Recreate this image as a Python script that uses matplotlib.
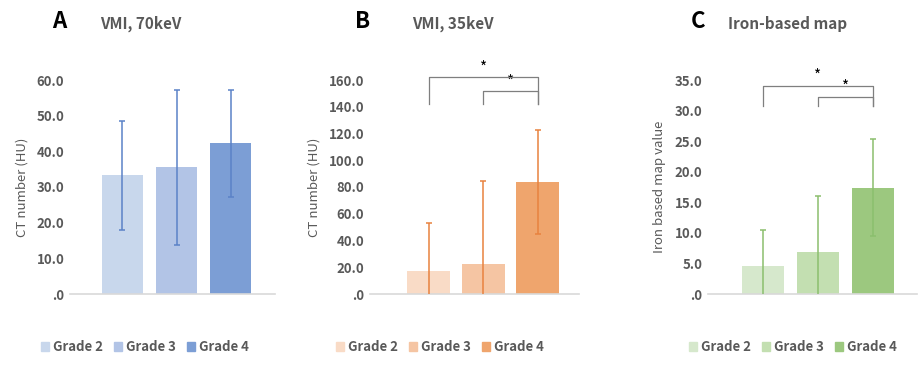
import matplotlib.pyplot as plt
import numpy as np

plt.rcParams['font.family'] = ['Noto Sans CJK JP', 'DejaVu Sans']

grades = ["Grade 2", "Grade 3", "Grade 4"]

vmi70_mean = [33.3, 35.5, 42.3]
vmi70_sd = [15.3, 21.8, 15.0]

vmi35_mean = [17.4, 22.2, 83.8]
vmi35_sd = [36.0, 62.6, 39.0]

iron_mean = [4.6, 6.8, 17.4]
iron_sd = [5.8, 9.3, 7.9]

# (left, right, bracket top, leg bottom) in data units
vmi35_brackets = [(0, 2, 162.0, 142.0), (1, 2, 151.5, 142.0)]
iron_brackets = [(0, 2, 34.1, 30.7), (1, 2, 32.3, 30.7)]

grey = '#595959'

fig = plt.figure(figsize=(9.23, 3.7), dpi=100)

panels = [
    dict(rect=[70/923, 1-294/370, 205/923, 214/370], mean=vmi70_mean, sd=vmi70_sd,
         colors=['#C8D7EC', '#B2C4E6', '#7C9ED5'], ecolor='#5B82C7', ymax=60, step=10,
         xlim=(-0.97, 2.82), width=0.76, ylabel='CT number (HU)', brackets=[],
         letter='A', lx=59, title='VMI, 70keV', tx=100, legx=145),
    dict(rect=[370/923, 1-294/370, 209/923, 214/370], mean=vmi35_mean, sd=vmi35_sd,
         colors=['#F9DBC6', '#F5C5A3', '#EFA56D'], ecolor='#E8823F', ymax=160, step=20,
         xlim=(-1.07, 2.75), width=0.785, ylabel='CT number (HU)', brackets=vmi35_brackets,
         letter='B', lx=363, title='VMI, 35keV', tx=412, legx=440),
    dict(rect=[708/923, 1-294/370, 209/923, 214/370], mean=iron_mean, sd=iron_sd,
         colors=['#D6E8CC', '#C3DFB1', '#9CC87F'], ecolor='#8BBF6E', ymax=35, step=5,
         xlim=(-1.0, 2.8), width=0.76, ylabel='Iron based map value', brackets=iron_brackets,
         letter='C', lx=698, title='Iron-based map', tx=728, legx=793),
]

for p in panels:
    ax = fig.add_axes(p['rect'])
    x = np.arange(len(grades))
    ax.bar(x, p['mean'], width=p['width'], color=p['colors'], zorder=2)
    ax.errorbar(x, p['mean'], yerr=p['sd'], fmt='none', ecolor=p['ecolor'],
                elinewidth=1.1, capsize=2, capthick=1.1, zorder=3)
    ax.set_xlim(*p['xlim'])
    ax.set_ylim(0, p['ymax'])
    ticks = np.arange(0, p['ymax'] + 0.1, p['step'])
    ax.set_yticks(ticks)
    ax.set_yticklabels(['.0' if t == 0 else f'{t:.1f}' for t in ticks],
                       fontsize=9.5, fontweight='bold', color=grey)
    ax.set_xticks([])
    ax.tick_params(axis='y', length=0, pad=4)
    for s in ['top', 'right', 'left']:
        ax.spines[s].set_visible(False)
    ax.spines['bottom'].set_color('#D9D9D9')
    ax.spines['bottom'].set_linewidth(1.2)
    ax.set_ylabel(p['ylabel'], fontsize=9.5, color=grey, labelpad=6)

    for (a, b, top, bot) in p['brackets']:
        ax.plot([a, a, b, b], [bot, top, top, bot], color='#7F7F7F', lw=0.9,
                clip_on=False, zorder=4)
        ax.text((a + b) / 2, top + p['ymax'] * 0.005, '*', ha='center', va='bottom',
                fontsize=11, color='black', clip_on=False)

    handles = [plt.Rectangle((0, 0), 1, 1, color=c) for c in p['colors']]
    ax.legend(handles, grades, loc='center', bbox_to_anchor=(p['legx'] / 923, 1 - 347 / 370),
              bbox_transform=fig.transFigure,
              ncol=3, frameon=False, handlelength=0.6, handleheight=0.6,
              handletextpad=0.35, columnspacing=0.8,
              prop=dict(size=9.5, weight='bold'), labelcolor=grey)

    fig.text(p['lx'] / 923, 1 - 22 / 370, p['letter'], fontsize=16, fontweight='bold',
             color='black', ha='center', va='center')
    fig.text(p['tx'] / 923, 1 - 24 / 370, p['title'], fontsize=11, fontweight='bold',
             color=grey, ha='left', va='center')

fig.savefig('out.png', dpi=100)
